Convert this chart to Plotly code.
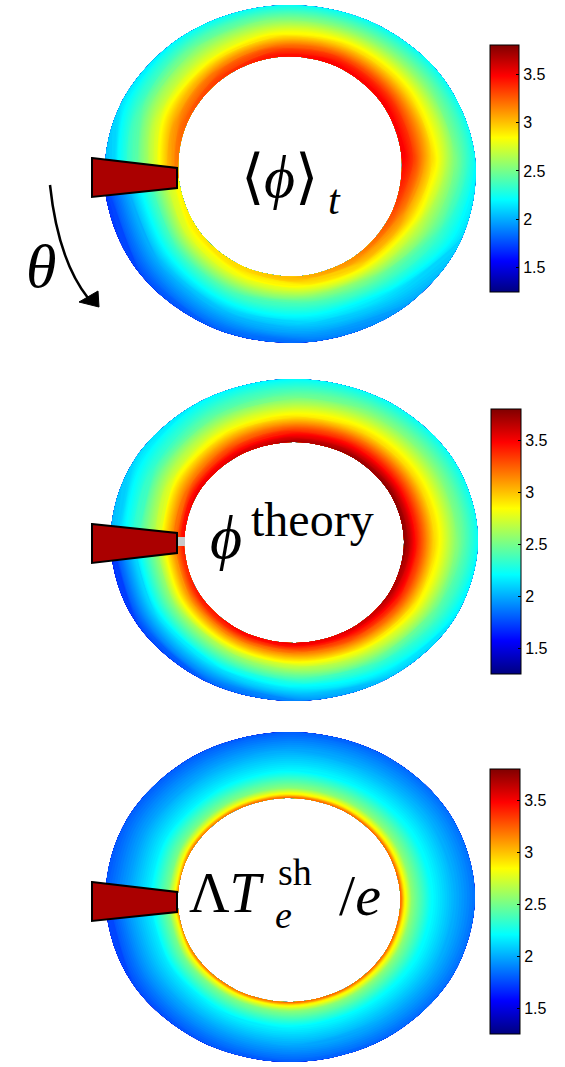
import math
import plotly.graph_objects as go

W, H = 565, 1067
CMIN, CMAX = 1.25, 3.8

# MATLAB-style jet colour map
JET = [
    [0.0, "rgb(0,0,128)"],
    [0.125, "rgb(0,0,255)"],
    [0.375, "rgb(0,255,255)"],
    [0.625, "rgb(255,255,0)"],
    [0.875, "rgb(255,0,0)"],
    [1.0, "rgb(128,0,0)"],
]

# normalised minor radius (0 = inner wall, 1 = outer wall)
S_LEVELS = [0.0, 0.05, 0.15, 0.4, 0.7, 1.0]
# poloidal angle in degrees, counted from the limiter in the theta direction
THETA = [0, 30, 60, 90, 120, 150, 180, 210, 240, 270, 300, 330, 360]

# <phi>_t : one row per THETA, one column per S_LEVELS
PHI_MEAN = [
    [2.85, 2.82, 2.70, 2.35, 2.00, 1.70],
    [2.90, 2.87, 2.75, 2.35, 2.00, 1.75],
    [2.95, 2.92, 2.80, 2.40, 2.05, 1.80],
    [3.05, 3.00, 2.85, 2.40, 2.10, 1.85],
    [3.15, 3.10, 2.95, 2.50, 2.15, 1.95],
    [3.30, 3.25, 3.10, 2.70, 2.35, 2.10],
    [3.50, 3.47, 3.35, 2.95, 2.55, 2.22],
    [3.50, 3.47, 3.35, 2.95, 2.55, 2.22],
    [3.50, 3.47, 3.35, 2.95, 2.55, 2.22],
    [3.45, 3.42, 3.30, 2.90, 2.55, 2.22],
    [3.35, 3.32, 3.20, 2.80, 2.50, 2.20],
    [3.25, 3.22, 3.10, 2.75, 2.40, 2.12],
    [3.15, 3.12, 3.00, 2.60, 2.30, 2.00],
]

# phi^theory
PHI_THEORY = [
    [3.45, 3.35, 3.10, 2.55, 2.10, 1.70],
    [3.45, 3.35, 3.10, 2.55, 2.10, 1.72],
    [3.50, 3.40, 3.15, 2.60, 2.15, 1.80],
    [3.55, 3.45, 3.20, 2.70, 2.25, 1.90],
    [3.60, 3.50, 3.30, 2.80, 2.35, 2.05],
    [3.70, 3.60, 3.40, 2.90, 2.45, 2.15],
    [3.78, 3.68, 3.45, 2.95, 2.55, 2.22],
    [3.78, 3.68, 3.45, 2.95, 2.55, 2.22],
    [3.75, 3.65, 3.45, 2.95, 2.55, 2.22],
    [3.70, 3.60, 3.40, 2.90, 2.50, 2.20],
    [3.60, 3.50, 3.30, 2.85, 2.45, 2.18],
    [3.55, 3.45, 3.20, 2.75, 2.35, 2.10],
    [3.50, 3.40, 3.15, 2.65, 2.30, 2.00],
]

# Lambda T_e^sh / e
LAMBDA_TE = [
    [3.20, 2.85, 2.50, 2.15, 1.95, 1.72],
    [3.20, 2.85, 2.50, 2.15, 1.95, 1.75],
    [3.22, 2.87, 2.52, 2.18, 1.97, 1.78],
    [3.25, 2.90, 2.55, 2.20, 2.00, 1.80],
    [3.25, 2.90, 2.55, 2.20, 2.00, 1.82],
    [3.25, 2.90, 2.55, 2.22, 2.02, 1.84],
    [3.25, 2.90, 2.55, 2.22, 2.02, 1.85],
    [3.25, 2.90, 2.55, 2.22, 2.02, 1.84],
    [3.25, 2.90, 2.55, 2.20, 2.00, 1.82],
    [3.25, 2.90, 2.55, 2.20, 2.00, 1.80],
    [3.22, 2.87, 2.52, 2.18, 1.98, 1.80],
    [3.20, 2.85, 2.50, 2.17, 1.97, 1.80],
    [3.20, 2.85, 2.50, 2.17, 1.97, 1.80],
]

TICK_VALS = [1.5, 2, 2.5, 3, 3.5]
TICK_TEXT = ["1.5", "2", "2.5", "3", "3.5"]

# layout of the three cross-sections (pixel units, y downwards);
# lim_deg is the angular position of the limiter below the horizontal
PANELS = [
    dict(z=PHI_MEAN, inner=(290, 166.5, 112, 110), outer=(290, 174, 186, 169), lim_deg=6,
         cbar=(490, 45, 29, 247), wedge_y=(158, 168, 188, 197)),
    dict(z=PHI_THEORY, inner=(294, 542.5, 110, 100.5), outer=(294, 540, 184, 161), lim_deg=0.5,
         cbar=(491, 409, 30, 265), wedge_y=(524, 533, 553, 563)),
    dict(z=LAMBDA_TE, inner=(289, 900, 111.5, 102), outer=(290, 897, 185, 165), lim_deg=1.5,
         cbar=(490, 769, 30, 265), wedge_y=(882, 892, 912, 921)),
]


def ring_grid(inner, outer, lim_deg):
    xs, ys = [], []
    for th in THETA:
        ang = math.radians(th + lim_deg)
        c, s = math.cos(ang), math.sin(ang)
        xi, yi = inner[0] - inner[2] * c, inner[1] + inner[3] * s
        xo, yo = outer[0] - outer[2] * c, outer[1] + outer[3] * s
        xs.append([xi + f * (xo - xi) for f in S_LEVELS])
        ys.append([yi + f * (yo - yi) for f in S_LEVELS])
    return xs, ys


hidden_axis = dict(showgrid=False, showline=False, showticklabels="none",
                   startline=False, endline=False, minorgridcount=0)

fig = go.Figure()
shapes = []
for k, p in enumerate(PANELS):
    xs, ys = ring_grid(p["inner"], p["outer"], p["lim_deg"])
    cid = f"ring{k}"
    fig.add_trace(go.Carpet(
        a=S_LEVELS, b=THETA, x=xs, y=ys, carpet=cid,
        aaxis=dict(hidden_axis, smoothing=0),
        baxis=dict(hidden_axis, smoothing=1),
    ))
    fig.add_trace(go.Contourcarpet(
        a=S_LEVELS, b=THETA, z=p["z"], carpet=cid,
        autocontour=False,
        contours=dict(start=CMIN, end=CMAX, size=0.02, coloring="fill", showlines=False),
        colorscale=JET, zmin=CMIN, zmax=CMAX, showscale=False,
        line=dict(width=0, smoothing=1),
    ))
    # colour bar carried by an invisible marker trace
    cx, cy, th, ln = p["cbar"]
    fig.add_trace(go.Scatter(
        x=[p["inner"][0]] * 2, y=[p["inner"][1]] * 2, mode="markers",
        marker=dict(size=1, opacity=0, color=[CMIN, CMAX], colorscale=JET,
                    cmin=CMIN, cmax=CMAX, showscale=True,
                    colorbar=dict(
                        x=cx / W, xanchor="left", xpad=0,
                        y=1 - (cy + ln / 2) / H, yanchor="middle", ypad=0,
                        len=ln, lenmode="pixels", thickness=th, thicknessmode="pixels",
                        outlinewidth=1, outlinecolor="black",
                        tickvals=TICK_VALS, ticktext=TICK_TEXT,
                        ticks="inside", ticklen=3, tickcolor="black",
                        tickfont=dict(family="Liberation Sans", size=16, color="black"),
                    )),
        hoverinfo="skip",
    ))
    # matching tick marks on the left edge of the colour bar
    for v in TICK_VALS:
        ty = cy + ln * (CMAX - v) / (CMAX - CMIN)
        shapes.append(dict(type="line", xref="x", yref="y", x0=cx, x1=cx + 3, y0=ty, y1=ty,
                           line=dict(color="black", width=1)))
    y0, y1, y2, y3 = p["wedge_y"]
    shapes.append(dict(type="path", xref="x", yref="y",
                       path=f"M 92 {y0} L 177 {y1} L 177 {y2} L 92 {y3} Z",
                       fillcolor="#AA0000", line=dict(color="black", width=2)))

# gap between the limiter tip and the plasma in the theory map
shapes.append(dict(type="rect", xref="x", yref="y", x0=178, x1=185, y0=537, y1=546,
                   fillcolor="#c8c8c8", line=dict(width=0)))
# theta direction arrow
shapes.append(dict(type="path", xref="x", yref="y", path="M 50 185 Q 58 260 88 298",
                   line=dict(color="black", width=2.5)))
shapes.append(dict(type="path", xref="x", yref="y", path="M 99 307 L 79 302 L 98 291 Z",
                   fillcolor="black", line=dict(color="black", width=1)))

SERIF = "Liberation Serif"


def label(text, x, y, size):
    return dict(text=text, x=x, y=y, xref="x", yref="y", showarrow=False,
                xanchor="center", yanchor="middle",
                font=dict(family=SERIF, size=size, color="black"))


annotations = [
    label("⟨<i>ϕ</i>⟩", 279, 177, 60),
    label("<i>t</i>", 334, 200, 42),
    label("<i>ϕ</i>", 226, 537, 62),
    label("theory", 312, 519, 48),
    label("Λ<i>T</i>", 227, 893, 56),
    label("sh", 295, 872, 38),
    label("<i>e</i>", 283, 915, 38),
    label("/<i>e</i>", 360, 895, 58),
    label("<i>θ</i>", 41, 266, 62),
]

fig.update_layout(
    width=W, height=H, margin=dict(l=0, r=0, t=0, b=0),
    paper_bgcolor="white", plot_bgcolor="white", showlegend=False,
    xaxis=dict(range=[0, W], visible=False, fixedrange=True),
    yaxis=dict(range=[H, 0], visible=False, fixedrange=True),
    shapes=shapes, annotations=annotations,
)

fig.write_html("out.html")
